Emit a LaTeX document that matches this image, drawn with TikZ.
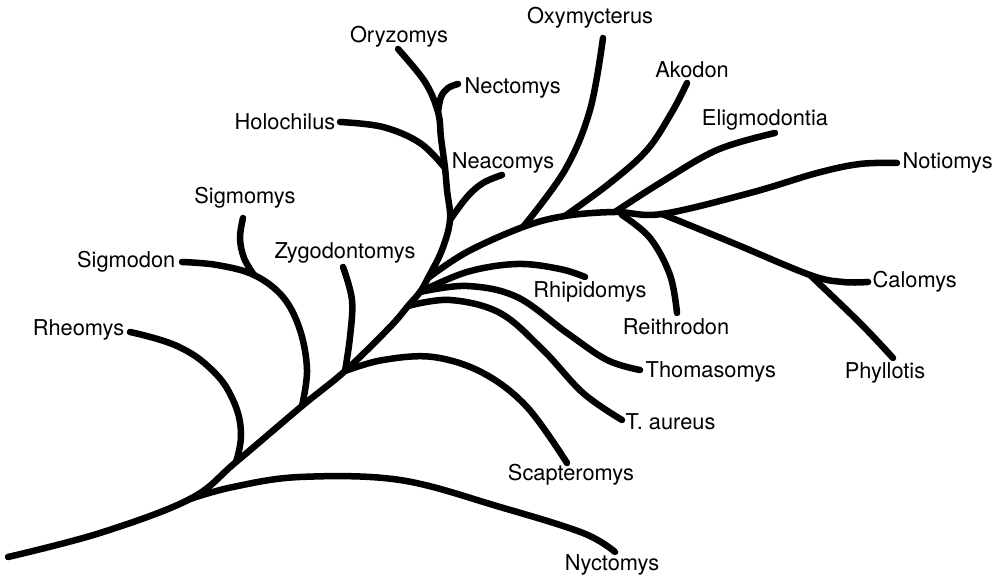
\documentclass[tikz,border=0pt]{standalone}
\usepackage{fontspec}
\setmainfont{TeX Gyre Heros}
\begin{document}
\begin{tikzpicture}[x=0.01cm,y=-0.01cm,
  br/.style={line width=0.65mm, line cap=round, line join=round},
  lbl/.style={font=\fontsize{6.2}{7}\selectfont, inner sep=0pt}]
\useasboundingbox (0,0) rectangle (1000,580);
% junctions
\coordinate (root) at (8,557);
\coordinate (jNyc) at (190,499);
\coordinate (jRhe) at (236,462);
\coordinate (jSig) at (302,406);
\coordinate (jZyg) at (345,371);
\coordinate (jTau) at (408,306);
\coordinate (jTho) at (420,292);
\coordinate (jUp) at (428,278);
\coordinate (jNea) at (450,220);
\coordinate (jHol) at (445,168);
\coordinate (jNec) at (438,112);
\coordinate (jOxy) at (523,227);
\coordinate (jAko) at (565,216);
\coordinate (jEli) at (615,212);
\coordinate (jRei) at (622,215);
\coordinate (jNot) at (662,214);
\coordinate (jPhy) at (810,275);
\coordinate (jSgm) at (254,275);
% tips
\coordinate (tOry) at (398,49);
\coordinate (tNec) at (458,84);
\coordinate (tHol) at (340,122);
\coordinate (tNea) at (502,175);
\coordinate (tOxy) at (603,38);
\coordinate (tAko) at (687,83);
\coordinate (tEli) at (775,133);
\coordinate (tNot) at (897,163);
\coordinate (tCal) at (868,282);
\coordinate (tPhy) at (893,358);
\coordinate (tRei) at (677,313);
\coordinate (tRhi) at (585,277);
\coordinate (tTho) at (640,370);
\coordinate (tTau) at (622,420);
\coordinate (tSca) at (567,463);
\coordinate (tZyg) at (343,267);
\coordinate (tSgd) at (182,262);
\coordinate (tSgm) at (243,218);
\coordinate (tRhe) at (130,332);
\coordinate (tNyc) at (615,552);

% spine
\draw[br] plot[smooth,tension=0.6] coordinates {(root) (100,533) (jNyc) (jRhe) (jSig) (jZyg) (390,327) (jTau) (jTho) (jUp) (442,250) (jNea) (447,190) (jHol) (441,138) (jNec) (425,82) (tOry)};
% right main branch
\draw[br] plot[smooth,tension=0.6] coordinates {(jUp) (467,252) (jOxy) (jAko) (jEli) (jNot) (750,193) (817,173) (860,164) (tNot)};
\draw[br] plot[smooth,tension=0.6] coordinates {(jOxy) (565,170) (590,110) (tOxy)};
\draw[br] plot[smooth,tension=0.6] coordinates {(jAko) (610,183) (647,150) (672,112) (tAko)};
\draw[br] plot[smooth,tension=0.6] coordinates {(jEli) (660,183) (717,150) (tEli)};
\draw[br] plot[smooth,tension=0.6] coordinates {(jRei) (650,238) (670,275) (tRei)};
\draw[br] plot[smooth,tension=0.6] coordinates {(jNot) (733,243) (jPhy) (843,282) (tCal)};
\draw[br] plot[smooth,tension=0.6] coordinates {(jPhy) (860,323) (tPhy)};
% middle clade
\draw[br] plot[smooth,tension=0.6] coordinates {(jTho) (467,272) (517,264) (560,269) (tRhi)};
\draw[br] plot[smooth,tension=0.6] coordinates {(jTho) (467,286) (517,297) (567,333) (607,360) (tTho)};
\draw[br] plot[smooth,tension=0.6] coordinates {(jTau) (450,300) (500,313) (543,350) (583,393) (tTau)};
\draw[br] plot[smooth,tension=0.6] coordinates {(jZyg) (383,360) (433,357) (483,373) (527,407) (tSca)};
\draw[br] plot[smooth,tension=0.6] coordinates {(jZyg) (350,337) (352,300) (tZyg)};
% left clades
\draw[br] plot[smooth,tension=0.6] coordinates {(jSig) (307,370) (300,330) (283,297) (jSgm) (217,265) (tSgd)};
\draw[br] plot[smooth,tension=0.6] coordinates {(jSgm) (244,258) (240,238) (tSgm)};
\draw[br] plot[smooth,tension=0.7] coordinates {(jRhe) (241,433) (233,400) (212,370) (177,346) (tRhe)};
\draw[br] plot[smooth,tension=0.6] coordinates {(jNyc) (233,487) (300,477) (400,480) (500,507) (583,533) (tNyc)};
% upper clade
\draw[br] plot[smooth,tension=0.6] coordinates {(jNea) (467,197) (483,183) (tNea)};
\draw[br] plot[smooth,tension=0.6] coordinates {(jHol) (420,143) (383,127) (tHol)};
\draw[br] plot[smooth,tension=0.6] coordinates {(jNec) (441,97) (448,88) (tNec)};

% labels
\node[lbl] (lOxy) at (590,18) {Oxymycterus};
\node[lbl] (lOry) at (399,37) {Oryzomys};
\node[lbl,anchor=west] (lNec) at (464,88) {Nectomys};
\node[lbl,anchor=east] (lHol) at (336,122) {Holochilus};
\node[lbl] (lNea) at (503,163) {Neacomys};
\node[lbl] (lAko) at (692,70) {Akodon};
\node[lbl] (lEli) at (765,120) {Eligmodontia};
\node[lbl,anchor=west] (lNot) at (902,163) {Notiomys};
\node[lbl] (lSgm) at (245,198) {Sigmomys};
\node[lbl,anchor=east] (lSgd) at (176,262) {Sigmodon};
\node[lbl] (lZyg) at (345,253) {Zygodontomys};
\node[lbl,anchor=east] (lRhe) at (125,330) {Rheomys};
\node[lbl] (lRhi) at (590,292) {Rhipidomys};
\node[lbl] (lRei) at (676,327) {Reithrodon};
\node[lbl,anchor=west] (lCal) at (872,282) {Calomys};
\node[lbl,anchor=west] (lTho) at (645,372) {Thomasomys};
\node[lbl] (lPhy) at (885,373) {Phyllotis};
\node[lbl,anchor=west] (lTau) at (625,422) {T. aureus};
\node[lbl] (lSca) at (571,475) {Scapteromys};
\node[lbl] (lNyc) at (612,565) {Nyctomys};
\end{tikzpicture}
\end{document}
